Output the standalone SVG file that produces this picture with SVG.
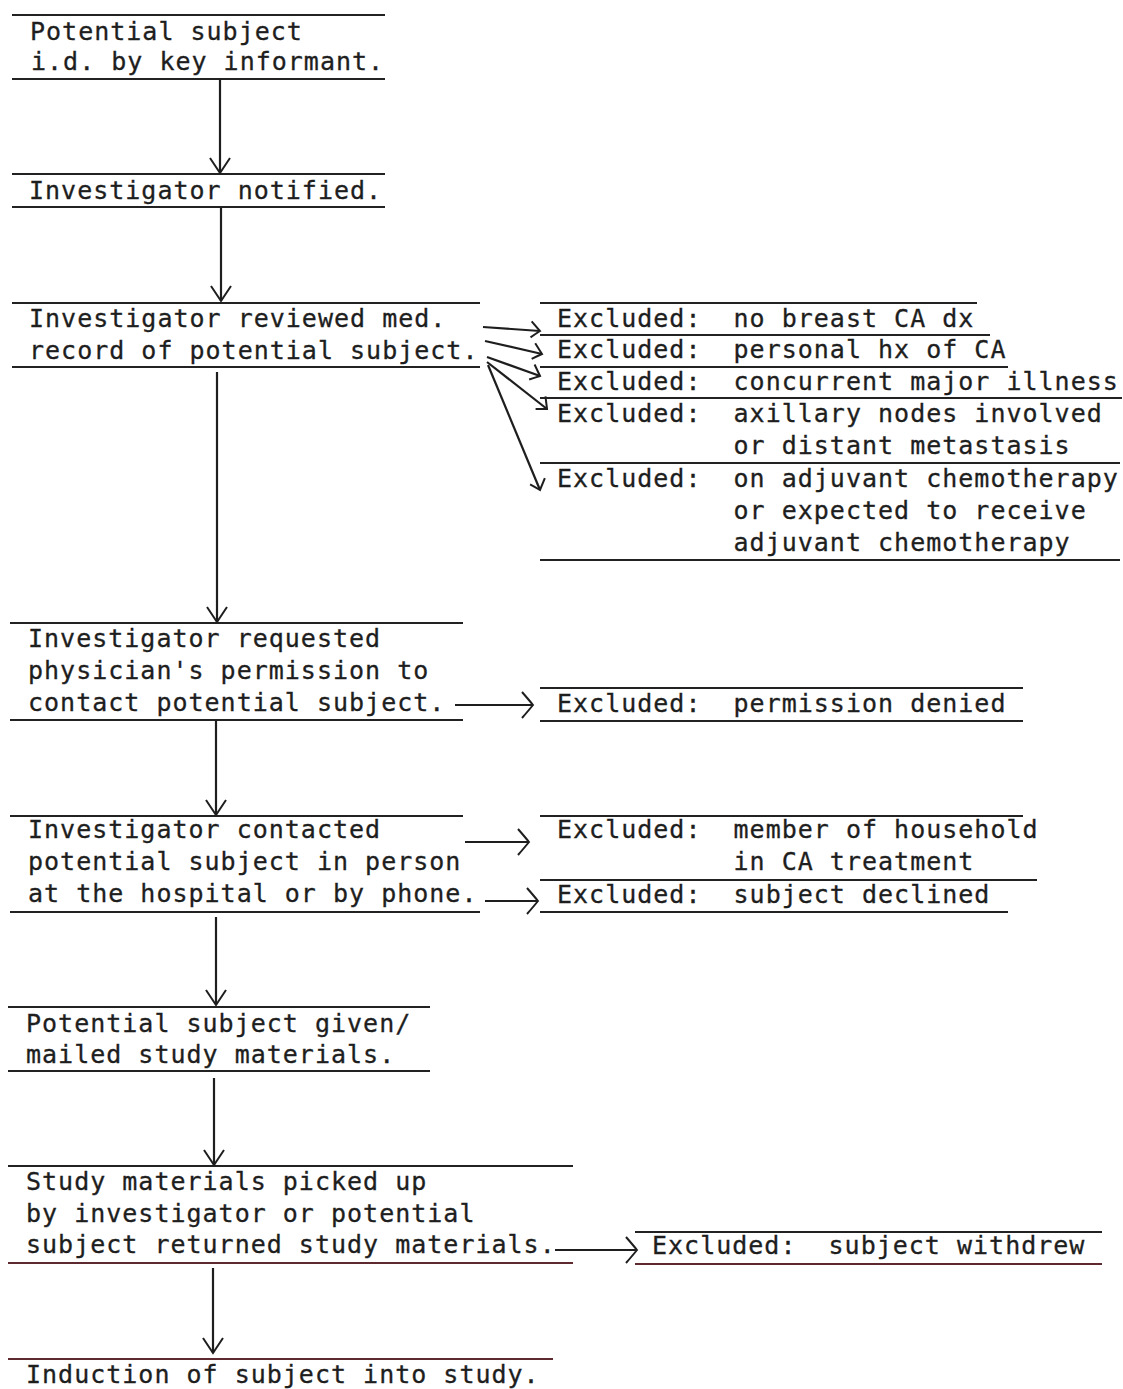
<svg xmlns="http://www.w3.org/2000/svg" width="1123" height="1389" viewBox="0 0 1123 1389">
<style>
text{font-family:"DejaVu Sans Mono","Liberation Mono",monospace;font-size:25px;letter-spacing:1px;fill:#1e1e1e;stroke:#1e1e1e;stroke-width:0.3px;white-space:pre}
.rule{stroke:#222;stroke-width:2;fill:none}
.red{stroke:#5e2a30}
.conn{stroke:#1e1e1e;stroke-width:2.2;fill:none}
</style>
<defs>
<marker id="v" viewBox="-16 -12 18 24" refX="0" refY="0" markerWidth="18" markerHeight="24" markerUnits="userSpaceOnUse" orient="auto" overflow="visible">
<path d="M-15,-10 L0,0 L-15,10" fill="none" stroke="#1e1e1e" stroke-width="2"/>
</marker>
<marker id="h" viewBox="-14 -14 16 28" refX="0" refY="0" markerWidth="16" markerHeight="28" markerUnits="userSpaceOnUse" orient="auto" overflow="visible">
<path d="M-11,-13 Q-4,-5 0,0 Q-4,5 -11,13" fill="none" stroke="#1e1e1e" stroke-width="2"/>
</marker>
<marker id="s" viewBox="-12 -10 14 20" refX="0" refY="0" markerWidth="14" markerHeight="20" markerUnits="userSpaceOnUse" orient="auto" overflow="visible">
<path d="M-9,-9 Q-3,-3 0,0 Q-4,3 -9,7" fill="none" stroke="#1e1e1e" stroke-width="2"/>
</marker>
</defs>
<rect width="1123" height="1389" fill="#ffffff"/>

<g id="node1">
<line class="rule" x1="12" y1="15" x2="385" y2="15"/>
<text x="30" y="40">Potential subject</text>
<text x="31" y="70">i.d. by key informant.</text>
<line class="rule" x1="12" y1="79" x2="385" y2="79"/>
</g>

<g id="node2">
<line class="rule" x1="12" y1="174" x2="385" y2="174"/>
<text x="29" y="199">Investigator notified.</text>
<line class="rule" x1="12" y1="207" x2="385" y2="207"/>
</g>

<g id="node3">
<line class="rule" x1="12" y1="303" x2="480" y2="303"/>
<text x="29" y="327">Investigator reviewed med.</text>
<text x="29" y="359">record of potential subject.</text>
<line class="rule" x1="12" y1="367" x2="480" y2="367"/>
</g>

<g id="excl-group1">
<line class="rule" x1="540" y1="303" x2="977" y2="303"/>
<text x="557" y="327">Excluded:  no breast CA dx</text>
<line class="rule" x1="540" y1="335" x2="990" y2="335"/>
<text x="557" y="358">Excluded:  personal hx of CA</text>
<line class="rule" x1="540" y1="367" x2="1008" y2="367"/>
<text x="557" y="390">Excluded:  concurrent major illness</text>
<line class="rule" x1="540" y1="398" x2="1122" y2="398"/>
<text x="557" y="422">Excluded:  axillary nodes involved</text>
<text x="557" y="454">           or distant metastasis</text>
<line class="rule" x1="540" y1="463" x2="1120" y2="463"/>
<text x="557" y="487">Excluded:  on adjuvant chemotherapy</text>
<text x="557" y="519">           or expected to receive</text>
<text x="557" y="551">           adjuvant chemotherapy</text>
<line class="rule" x1="540" y1="560" x2="1120" y2="560"/>
</g>

<g id="node4">
<line class="rule" x1="10" y1="623" x2="463" y2="623"/>
<text x="28" y="647">Investigator requested</text>
<text x="28" y="679">physician's permission to</text>
<text x="28" y="711">contact potential subject.</text>
<line class="rule" x1="10" y1="720" x2="463" y2="720"/>
</g>

<g id="excl-permission">
<line class="rule" x1="540" y1="688" x2="1023" y2="688"/>
<text x="557" y="712">Excluded:  permission denied</text>
<line class="rule" x1="540" y1="721" x2="1023" y2="721"/>
</g>

<g id="node5">
<line class="rule" x1="10" y1="816" x2="463" y2="816"/>
<text x="28" y="838">Investigator contacted</text>
<text x="28" y="870">potential subject in person</text>
<text x="28" y="902">at the hospital or by phone.</text>
<line class="rule" x1="10" y1="912" x2="480" y2="912"/>
</g>

<g id="excl-household">
<line class="rule" x1="540" y1="816" x2="1023" y2="816"/>
<text x="557" y="838">Excluded:  member of household</text>
<text x="557" y="870">           in CA treatment</text>
<line class="rule" x1="540" y1="880" x2="1037" y2="880"/>
</g>

<g id="excl-declined">
<text x="557" y="903">Excluded:  subject declined</text>
<line class="rule" x1="540" y1="912" x2="1008" y2="912"/>
</g>

<g id="node6">
<line class="rule" x1="8" y1="1007" x2="430" y2="1007"/>
<text x="26" y="1032">Potential subject given/</text>
<text x="26" y="1063">mailed study materials.</text>
<line class="rule" x1="8" y1="1071" x2="430" y2="1071"/>
</g>

<g id="node7">
<line class="rule" x1="8" y1="1166" x2="573" y2="1166"/>
<text x="26" y="1190">Study materials picked up</text>
<text x="26" y="1222">by investigator or potential</text>
<text x="26" y="1253">subject returned study materials.</text>
<line class="rule red" x1="8" y1="1263" x2="573" y2="1263"/>
</g>

<g id="excl-withdrew">
<line class="rule" x1="635" y1="1232" x2="1102" y2="1232"/>
<text x="652" y="1254">Excluded:  subject withdrew</text>
<line class="rule red" x1="635" y1="1264" x2="1102" y2="1264"/>
</g>

<g id="node8">
<line class="rule red" x1="8" y1="1359" x2="553" y2="1359"/>
<text x="26" y="1383">Induction of subject into study.</text>
</g>

<g id="connectors">
<line class="conn" x1="220" y1="79" x2="220" y2="173" marker-end="url(#v)"/>
<line class="conn" x1="221" y1="207" x2="221" y2="301" marker-end="url(#v)"/>
<line class="conn" x1="217" y1="372" x2="217" y2="622" marker-end="url(#v)"/>
<line class="conn" x1="216" y1="720" x2="216" y2="815" marker-end="url(#v)"/>
<line class="conn" x1="216" y1="917" x2="216" y2="1005" marker-end="url(#v)"/>
<line class="conn" x1="214" y1="1078" x2="214" y2="1165" marker-end="url(#v)"/>
<line class="conn" x1="213" y1="1268" x2="213" y2="1353" marker-end="url(#v)"/>

<line class="conn" x1="483" y1="327" x2="540" y2="331" marker-end="url(#s)"/>
<line class="conn" x1="485" y1="341" x2="542" y2="354" marker-end="url(#s)"/>
<line class="conn" x1="487" y1="357" x2="540" y2="376" marker-end="url(#s)"/>
<line class="conn" x1="487" y1="362" x2="547" y2="409" marker-end="url(#s)"/>
<line class="conn" x1="488" y1="365" x2="540" y2="490" marker-end="url(#s)"/>

<line class="conn" x1="455" y1="705" x2="533" y2="705" marker-end="url(#h)"/>
<line class="conn" x1="465" y1="842" x2="529" y2="842" marker-end="url(#h)"/>
<line class="conn" x1="485" y1="901" x2="538" y2="901" marker-end="url(#h)"/>
<line class="conn" x1="555" y1="1250" x2="637" y2="1250" marker-end="url(#h)"/>
</g>
</svg>
